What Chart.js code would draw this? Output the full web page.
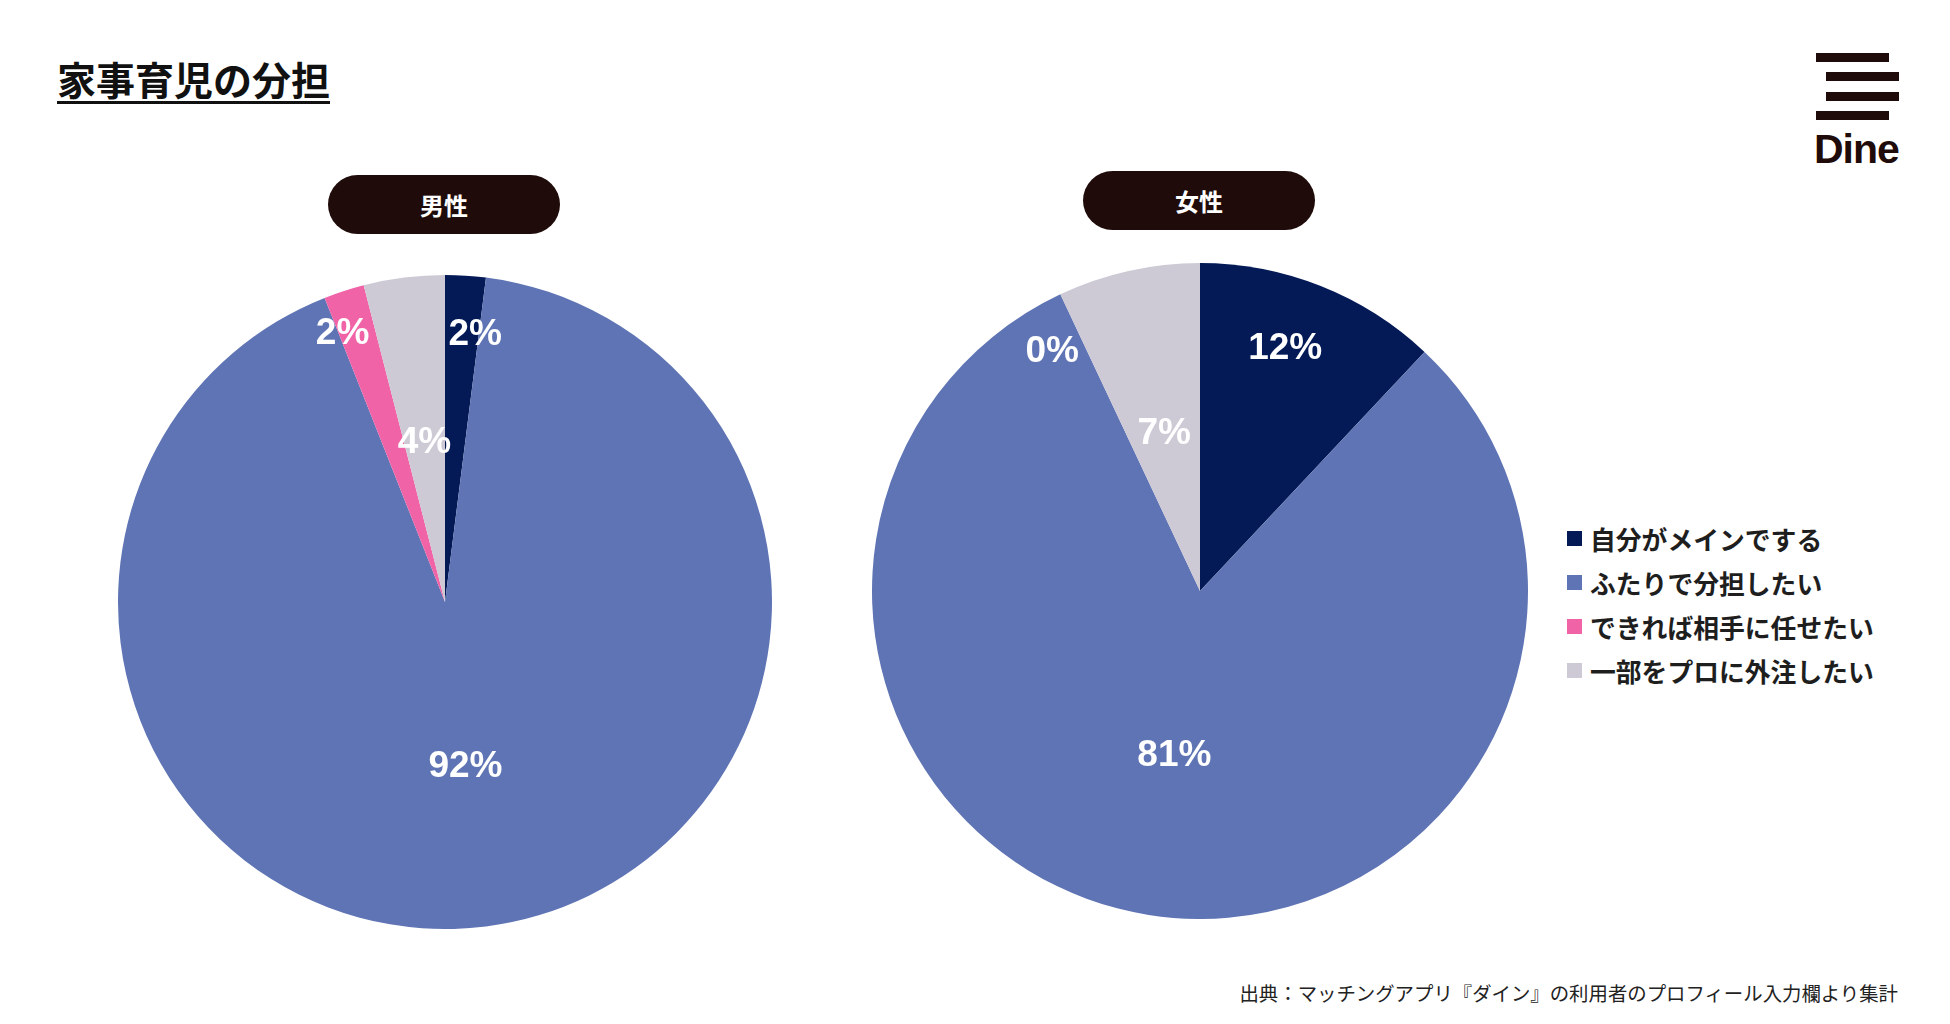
<!DOCTYPE html>
<html lang="ja">
<head>
<meta charset="utf-8">
<script src="https://cdn.jsdelivr.net/npm/chart.js@4/dist/chart.umd.min.js"></script>
<style>
  html, body { margin: 0; padding: 0; background: #fff; }
  body { width: 1950px; height: 1024px; position: relative; overflow: hidden;
         font-family: "Noto Sans CJK JP", "Noto Sans", sans-serif; color: #1e1e1e; }
  .title { position: absolute; left: 57px; top: 52px; font-size: 39px; font-weight: 700;
           line-height: 52px; color: #111; text-decoration: underline;
           text-decoration-thickness: 3px; text-underline-offset: 6px; }
  .pill { position: absolute; width: 232px; height: 59px; border-radius: 30px; background: #1f0c0a;
          color: #fff; font-size: 24px; font-weight: 700; display: flex; align-items: center;
          justify-content: center; }
  .logo .bar { position: absolute; height: 9px; width: 73px; background: #1f0c0a; }
  .logo .word { position: absolute; left: 1814px; top: 126px; font-family: "Liberation Sans", Arial, sans-serif;
                font-weight: 700; font-size: 41px; color: #1f0c0a; letter-spacing: -1px; }
  canvas { position: absolute; }
  #legend { position: absolute; left: 1567px; top: 516px; }
  #legend .row { display: flex; align-items: center; height: 44px; font-size: 25.8px; font-weight: 700; color: #1e1e1e; }
  #legend .sw { width: 15px; height: 15px; margin-right: 8px; flex: none; }
  .note { position: absolute; right: 52px; top: 978px; font-size: 19.4px; color: #222; }
</style>
</head>
<body>
<div class="title">家事育児の分担</div>

<div class="logo">
  <div class="bar" style="left:1816px; top:53px"></div>
  <div class="bar" style="left:1826px; top:72px"></div>
  <div class="bar" style="left:1826px; top:92px"></div>
  <div class="bar" style="left:1816px; top:111px"></div>
  <div class="word">Dine</div>
</div>

<div class="pill" style="left:328px; top:175px">男性</div>
<div class="pill" style="left:1083px; top:171px">女性</div>

<canvas id="male-chart" width="654" height="654" style="left:118px; top:275px"></canvas>
<canvas id="female-chart" width="656" height="656" style="left:872px; top:263px"></canvas>

<div id="legend"></div>
<div class="note">出典：マッチングアプリ『ダイン』の利用者のプロフィール入力欄より集計</div>

<script>
const categories = ['自分がメインでする', 'ふたりで分担したい', 'できれば相手に任せたい', '一部をプロに外注したい'];
const maleValues = [2, 92, 2, 4];
const femaleValues = [12, 81, 0, 7];
const sliceColors = ['#031a57', '#5f74b4', '#f063a6', '#cdcad6'];

// where each % label sits: fraction of radius, and a small angle nudge (degrees)
const maleLabelPos = [[0.83, 2.8], [0.5, 0], [0.886, -2.7], [0.5, 0]];
const femaleLabelPos = [[0.79, -2.4], [0.5, 0], [0.865, -6.2], [0.5, 0]];

const pctLabels = {
  id: 'pctLabels',
  afterDatasetsDraw(chart, args, opts) {
    const ctx = chart.ctx;
    const meta = chart.getDatasetMeta(0);
    const values = chart.data.datasets[0].data;
    ctx.save();
    ctx.fillStyle = '#fff';
    ctx.font = 'bold 37px "Liberation Sans", Arial, sans-serif';
    ctx.textAlign = 'center';
    ctx.textBaseline = 'middle';
    meta.data.forEach((arc, i) => {
      const p = arc.getProps(['x', 'y', 'startAngle', 'endAngle', 'outerRadius'], true);
      const pos = opts.positions[i];
      const a = (p.startAngle + p.endAngle) / 2 + pos[1] * Math.PI / 180;
      const r = p.outerRadius * pos[0];
      ctx.fillText(values[i] + '%', p.x + Math.cos(a) * r, p.y + Math.sin(a) * r + 3);
    });
    ctx.restore();
  }
};

function makePie(id, values, positions) {
  return new Chart(document.getElementById(id), {
    type: 'pie',
    data: {
      labels: categories,
      datasets: [{ data: values, backgroundColor: sliceColors, borderWidth: 0, hoverBorderWidth: 0, hoverOffset: 0 }]
    },
    options: {
      responsive: false,
      animation: false,
      events: [],
      layout: { padding: 0 },
      plugins: {
        legend: { display: false },
        tooltip: { enabled: false },
        pctLabels: { positions }
      }
    },
    plugins: [pctLabels]
  });
}

makePie('male-chart', maleValues, maleLabelPos);
makePie('female-chart', femaleValues, femaleLabelPos);

document.getElementById('legend').innerHTML = categories.map((c, i) =>
  `<div class="row"><span class="sw" style="background:${sliceColors[i]}"></span>${c}</div>`).join('');
</script>
</body>
</html>
